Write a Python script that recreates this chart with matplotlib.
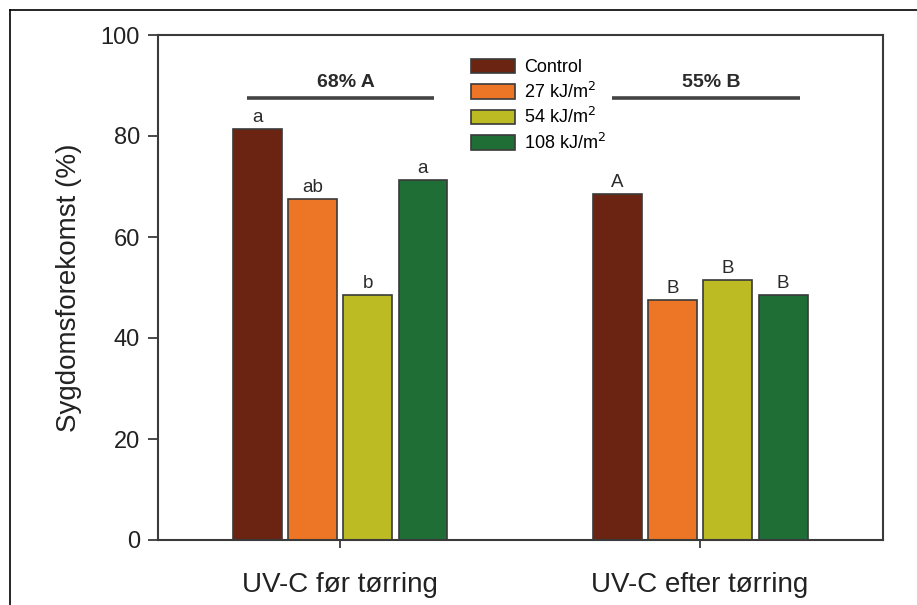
#Sygdomsforekomst vs UV-C behandling (grouped bars)

import numpy as np
import matplotlib.pyplot as plt
from matplotlib.patches import Patch
from matplotlib.lines import Line2D

plt.rcParams['font.family'] = ['Liberation Sans', 'DejaVu Sans']

groups = ['UV-C før tørring', 'UV-C efter tørring']
doses = ['Control', '27 kJ/m$^2$', '54 kJ/m$^2$', '108 kJ/m$^2$']
colors = ['#6b2412', '#ec7626', '#bdbb24', '#1e6e35']

control = [81.3, 68.6]
dose27 = [67.5, 47.6]
dose54 = [48.6, 51.4]
dose108 = [71.3, 48.6]
letters = [['a', 'ab', 'b', 'a'], ['A', 'B', 'B', 'B']]

group_means = ['68% A', '55% B']
mean_lines = [(-0.258, 0.261), (0.756, 1.278)]

series = [control, dose27, dose54, dose108]
x = np.arange(len(groups))
slot = 0.1536
width = 0.136

fig = plt.figure(figsize=(9.17, 6.05), dpi=100)
ax = fig.add_axes([158/917, 65/605, 725/917, 505/605])

edge = '#3a3a3a'
for i, vals in enumerate(series):
    pos = x + (i - 1.5) * slot
    ax.bar(pos, vals, width, color=colors[i], edgecolor=edge, linewidth=1.2, zorder=2)
    for j, v in enumerate(vals):
        ax.text(pos[j], v + 0.6, letters[j][i], ha='center', va='bottom',
                fontsize=13.5, color='#2a2a2a')

for k in range(len(groups)):
    x0, x1 = mean_lines[k]
    ax.plot([x0, x1], [87.5, 87.5], color='#444444', lw=2.6, solid_capstyle='butt')
    ax.text((x0 + x1) / 2 + 0.015, 89.0, group_means[k], ha='center', va='bottom',
            fontsize=14, fontweight='bold', color='#2a2a2a')

ax.set_xlim(-0.5056, 1.508)
ax.set_ylim(0, 100)
ax.set_yticks([0, 20, 40, 60, 80, 100])
ax.set_xticks(x)
ax.set_xticklabels(groups, fontsize=20)
ax.tick_params(axis='y', direction='out', length=7, width=1.3, labelsize=17,
               pad=6, colors=edge, labelcolor='#222222')
ax.tick_params(axis='x', direction='out', length=6, width=1.3, pad=17,
               colors=edge, labelcolor='#222222')
for s in ax.spines.values():
    s.set_color(edge)
    s.set_linewidth(1.5)

ax.set_ylabel('Sygdomsforekomst (%)', fontsize=20, color='#222222')
ax.yaxis.set_label_coords(-0.105, 0.5)

handles = [Patch(facecolor=c, edgecolor=edge, linewidth=1.2) for c in colors]
ax.legend(handles, doses, loc='upper left', bbox_to_anchor=(0.422, 0.967),
          frameon=False, fontsize=13, handlelength=2.4, handleheight=0.85,
          labelspacing=0.3, handletextpad=0.55, borderaxespad=0)

# outer frame around the figure
fig.add_artist(Line2D([10/917, 10/917], [0, 1 - 10/605], color='black', lw=1.2))
fig.add_artist(Line2D([10/917, 1], [1 - 10/605, 1 - 10/605], color='black', lw=1.2))

plt.savefig('out.png')
